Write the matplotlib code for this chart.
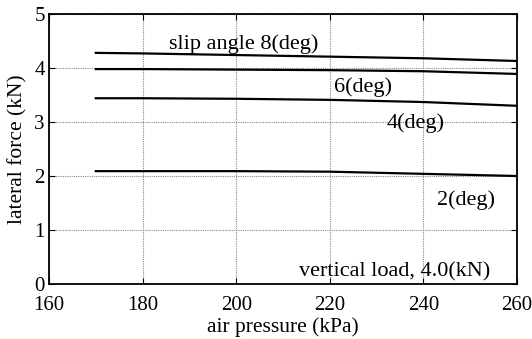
import matplotlib
matplotlib.use("Agg")
import matplotlib.pyplot as plt

pressure = [170, 180, 200, 220, 240, 260]
slip8 = [4.28, 4.27, 4.24, 4.21, 4.18, 4.13]
slip6 = [3.98, 3.98, 3.97, 3.96, 3.94, 3.89]
slip4 = [3.44, 3.44, 3.43, 3.41, 3.37, 3.30]
slip2 = [2.09, 2.09, 2.09, 2.08, 2.04, 2.00]

plt.rcParams['font.family'] = ['Liberation Serif', 'DejaVu Serif']
plt.rcParams['mathtext.fontset'] = 'stix'

fig = plt.figure(figsize=(5.32, 3.39), dpi=100)
ax = fig.add_axes([49/532, 1-284/339, (517-49)/532, (284-14)/339])

for s in (slip8, slip6, slip4, slip2):
    ax.plot(pressure, s, color='black', lw=1.6)

ax.set_xlim(160, 260)
ax.set_ylim(0, 5)
ax.set_xticks([160, 180, 200, 220, 240, 260])
ax.set_yticks([0, 1, 2, 3, 4, 5])
ax.grid(True, color='#888888', linestyle=(0, (1, 1)), lw=0.8)
for sp in ax.spines.values():
    sp.set_linewidth(1.3)
ax.tick_params(direction='in', top=True, right=True, length=4, labelsize=15)
ax.tick_params(axis='x', pad=9)
ax.tick_params(axis='y', pad=3)
ax.set_xlabel('air pressure (kPa)', fontsize=15.5, labelpad=1)
ax.set_ylabel('lateral force (kN)', fontsize=15.5, labelpad=5)

fs = 16
ax.text(201.5, 4.44, 'slip angle 8(deg)', fontsize=fs, ha='center', va='center')
ax.text(220.9, 3.65, '6(deg)', fontsize=fs, ha='left', va='center')
ax.text(232.2, 2.98, '4(deg)', fontsize=fs, ha='left', va='center')
ax.text(242.9, 1.56, '2(deg)', fontsize=fs, ha='left', va='center')
ax.text(254.2, 0.22, 'vertical load, 4.0(kN)', fontsize=fs, ha='right', va='center')

fig.savefig('out.png', dpi=100)
